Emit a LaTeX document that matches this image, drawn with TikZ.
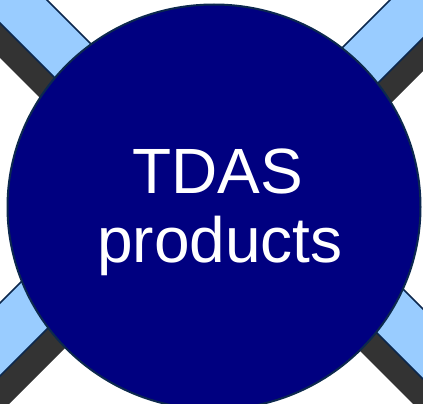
\documentclass[tikz,border=0pt]{standalone}
\usepackage{fontspec}
\setmainfont{Liberation Sans}
\usetikzlibrary{shapes.geometric}
\definecolor{barblue}{HTML}{99CCFF}
\definecolor{barshadow}{HTML}{333333}
\definecolor{hubfill}{HTML}{000080}
\definecolor{hubline}{RGB}{12,40,78}
\tikzset{
  barbody/.style={fill=barblue, draw=hubline, line width=1.5pt, line join=miter},
  barshade/.style={fill=barshadow, draw=none},
  hub/.style={ellipse, fill=hubfill, draw=hubline, line width=2pt, inner sep=0pt,
    minimum width=413pt, minimum height=405pt},
  hubtext/.style={text=white, font=\fontsize{64}{69}\selectfont, inner sep=0pt, anchor=base}
}
\begin{document}
\begin{tikzpicture}[x=1pt, y=-1pt]
\useasboundingbox (0,0) rectangle (423,404);
\begin{scope}
\clip (0,0) rectangle (423,404);
% shadows
\fill[barshade] (100,88) -- (-60,-72) -- (-60,-2) -- (100,158) -- cycle;
\fill[barshade] (320,103) -- (500,-77) -- (500,-6) -- (320,174) -- cycle;
\fill[barshade] (110,230) -- (-80,420) -- (-80,493) -- (110,303) -- cycle;
\fill[barshade] (320,241) -- (520,441) -- (520,511) -- (320,311) -- cycle;
% bars
\draw[barbody] (100,53) -- (-60,-107) -- (-60,-37) -- (100,123) -- cycle;
\draw[barbody] (320,70) -- (500,-110) -- (500,-39) -- (320,141) -- cycle;
\draw[barbody] (110,193) -- (-80,383) -- (-80,456) -- (110,266) -- cycle;
\draw[barbody] (320,206) -- (520,406) -- (520,476) -- (320,276) -- cycle;
% hub
\node[hub] (hub) at (214,207) {};
\end{scope}
\node[hubtext] (line1) at (217.5,193) {TDAS};
\node[hubtext] (line2) at (220,262) {products};
\end{tikzpicture}
\end{document}
